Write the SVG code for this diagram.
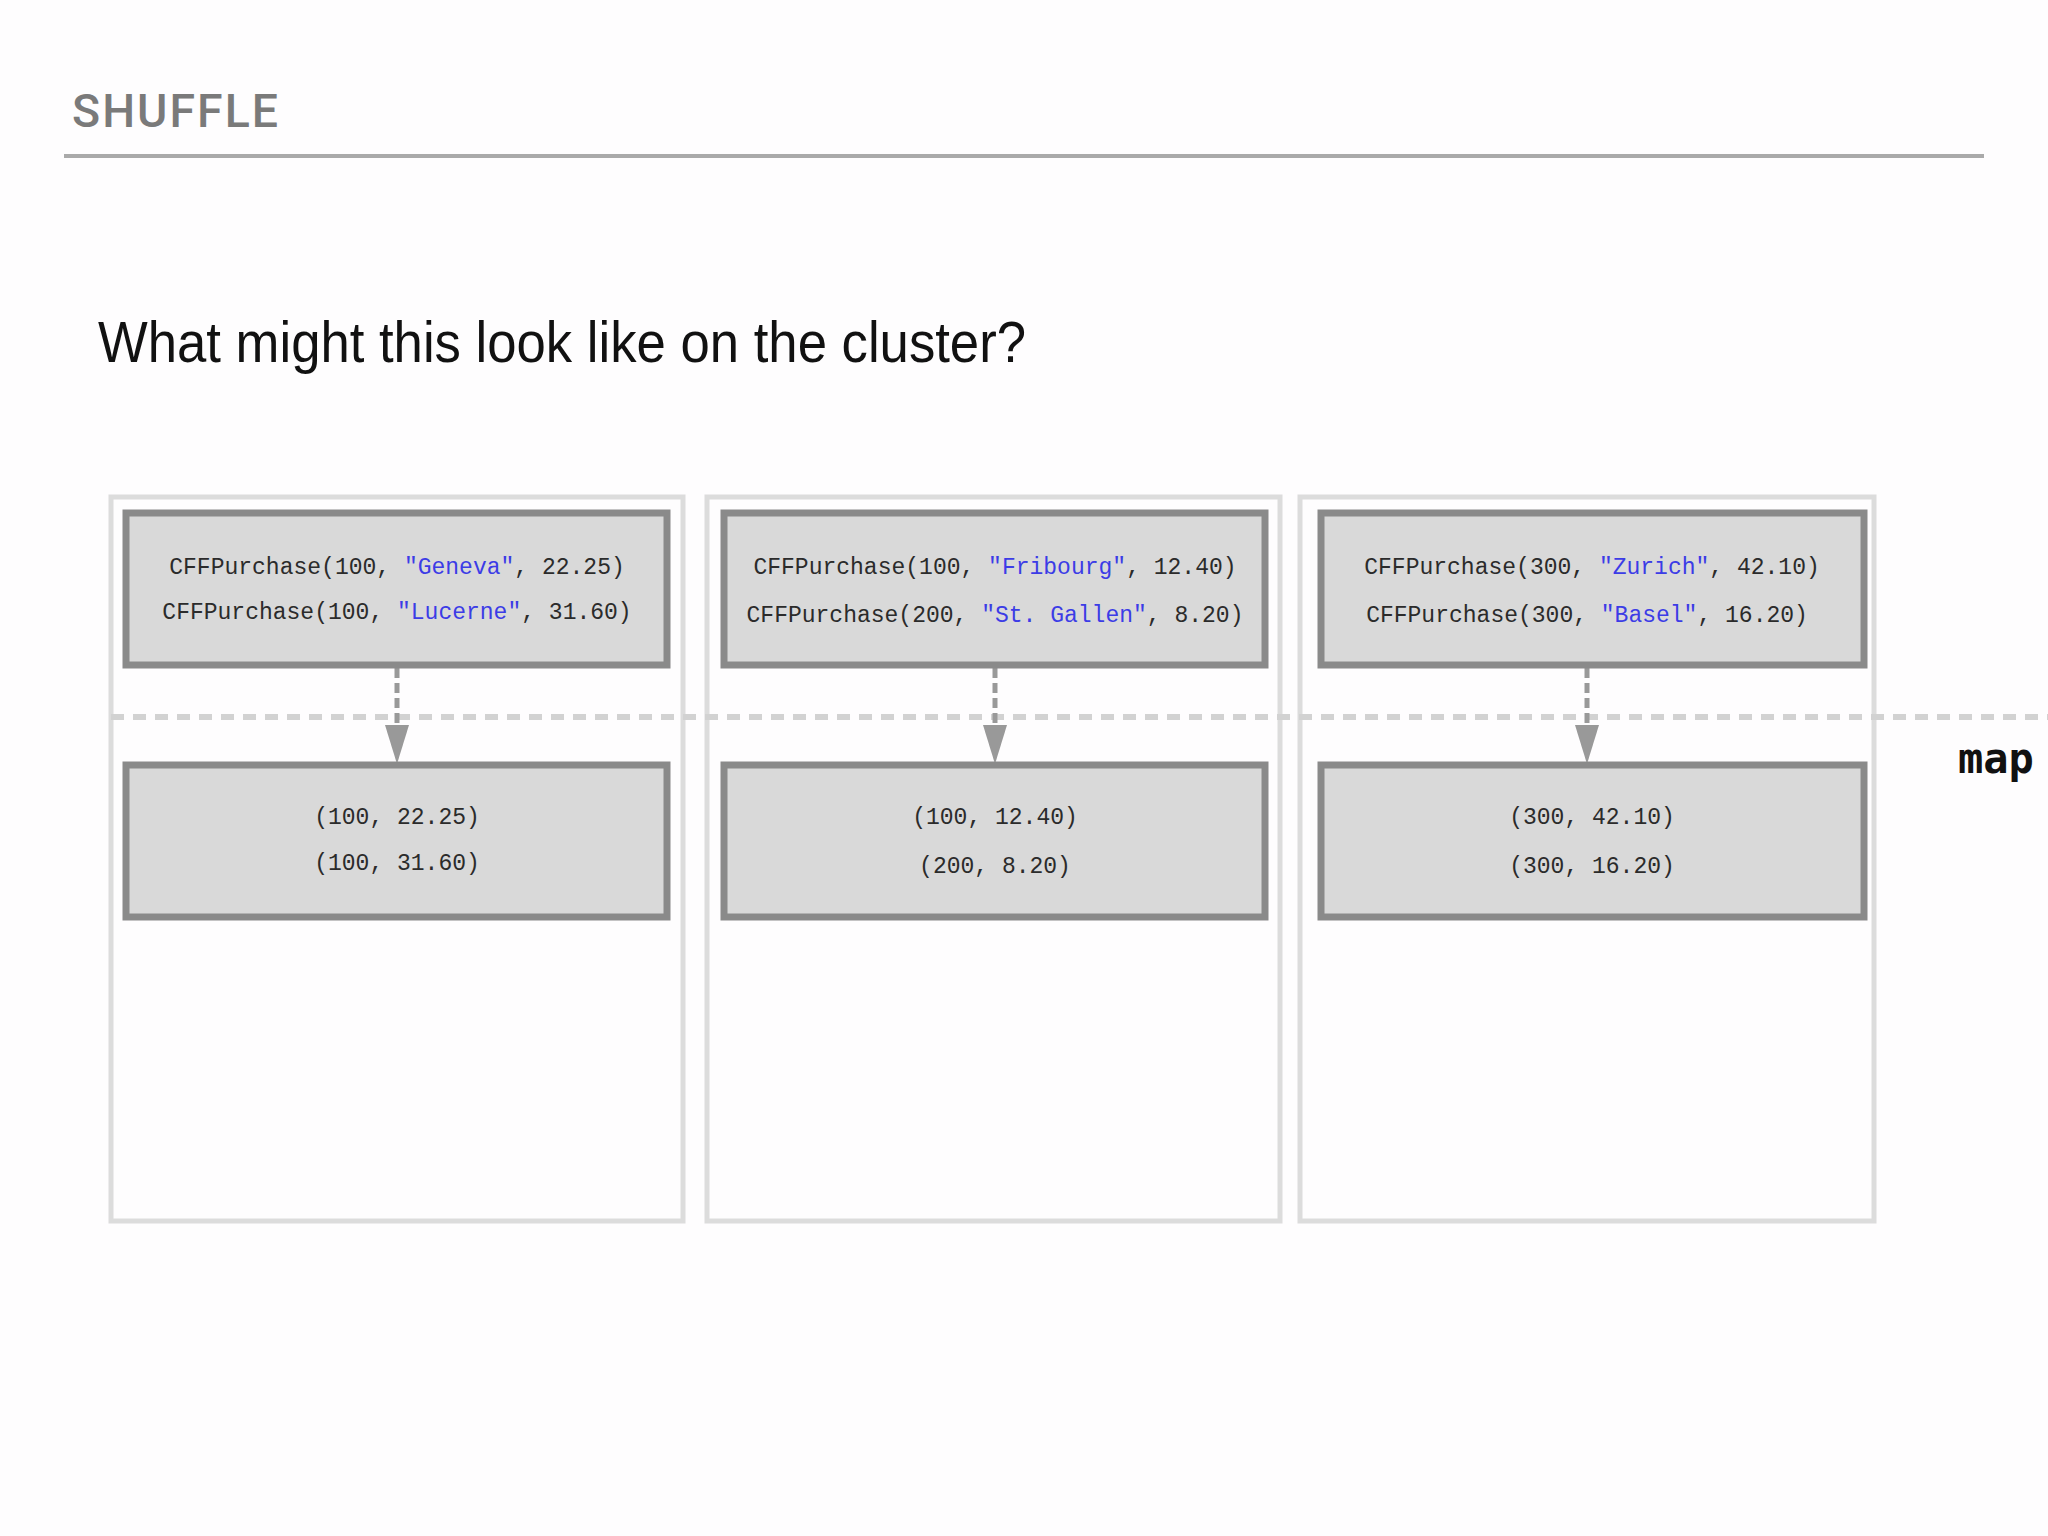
<svg xmlns="http://www.w3.org/2000/svg" width="2048" height="1536" viewBox="0 0 2048 1536">
<defs>
<style>
.title{font-family:Roboto,"Liberation Sans",sans-serif;font-weight:500;font-size:46px;fill:#7a7a7a;letter-spacing:2px}
.sub{font-family:"Liberation Sans",Arial,sans-serif;font-size:58px;fill:#111}
.col{fill:none;stroke:#dcdcdc;stroke-width:5}
.box{fill:#d9d9d9;stroke:#8a8a8a;stroke-width:7}
.code{font-family:"Liberation Mono","DejaVu Sans Mono",monospace;font-size:23px;fill:#2b2b2b;text-anchor:middle}
.str{fill:#3c3ce6}
.sep{stroke:#d2d2d2;stroke-width:6;stroke-dasharray:13 9;fill:none}
.shaft{stroke:#999;stroke-width:5;stroke-dasharray:10 5;fill:none}
.head{fill:#999}
.map{font-family:"DejaVu Sans Mono","Liberation Mono",monospace;font-weight:bold;font-size:42px;fill:#111}
</style>
</defs>
<rect x="0" y="0" width="2048" height="1536" fill="#fefdfe"/>
<text class="title" x="72" y="127" textLength="208" lengthAdjust="spacingAndGlyphs">SHUFFLE</text>
<line x1="64" y1="156" x2="1984" y2="156" stroke="#aaaaaa" stroke-width="4"/>
<text class="sub" x="98" y="362" textLength="928" lengthAdjust="spacingAndGlyphs">What might this look like on the cluster?</text>

<g id="column1"><rect class="col" x="111" y="497" width="572" height="724"/></g>
<g id="column2"><rect class="col" x="707" y="497" width="573" height="724"/></g>
<g id="column3"><rect class="col" x="1300" y="497" width="574" height="724"/></g>

<g id="separator">
<line class="sep" x1="111" y1="717" x2="2048" y2="717"/>
<text class="map" x="1958" y="773">map</text>
</g>

<g id="connectors">
<line class="shaft" x1="397" y1="668" x2="397" y2="728"/>
<polygon class="head" points="385,725 409,725 397,764"/>
<line class="shaft" x1="995" y1="668" x2="995" y2="728"/>
<polygon class="head" points="983,725 1007,725 995,764"/>
<line class="shaft" x1="1587" y1="668" x2="1587" y2="728"/>
<polygon class="head" points="1575,725 1599,725 1587,764"/>
</g>

<g id="box1-top">
<rect class="box" x="126" y="513" width="541" height="152"/>
<text class="code" x="397" y="574">CFFPurchase(100, <tspan class="str">"Geneva"</tspan>, 22.25)</text>
<text class="code" x="397" y="619">CFFPurchase(100, <tspan class="str">"Lucerne"</tspan>, 31.60)</text>
</g>
<g id="box2-top">
<rect class="box" x="724" y="513" width="541" height="152"/>
<text class="code" x="995" y="574">CFFPurchase(100, <tspan class="str">"Fribourg"</tspan>, 12.40)</text>
<text class="code" x="995" y="622">CFFPurchase(200, <tspan class="str">"St. Gallen"</tspan>, 8.20)</text>
</g>
<g id="box3-top">
<rect class="box" x="1321" y="513" width="543" height="152"/>
<text class="code" x="1592" y="574">CFFPurchase(300, <tspan class="str">"Zurich"</tspan>, 42.10)</text>
<text class="code" x="1587" y="622">CFFPurchase(300, <tspan class="str">"Basel"</tspan>, 16.20)</text>
</g>

<g id="box1-bottom">
<rect class="box" x="126" y="765" width="541" height="152"/>
<text class="code" x="397" y="824">(100, 22.25)</text>
<text class="code" x="397" y="870">(100, 31.60)</text>
</g>
<g id="box2-bottom">
<rect class="box" x="724" y="765" width="541" height="152"/>
<text class="code" x="995" y="824">(100, 12.40)</text>
<text class="code" x="995" y="873">(200, 8.20)</text>
</g>
<g id="box3-bottom">
<rect class="box" x="1321" y="765" width="543" height="152"/>
<text class="code" x="1592" y="824">(300, 42.10)</text>
<text class="code" x="1592" y="873">(300, 16.20)</text>
</g>
</svg>
